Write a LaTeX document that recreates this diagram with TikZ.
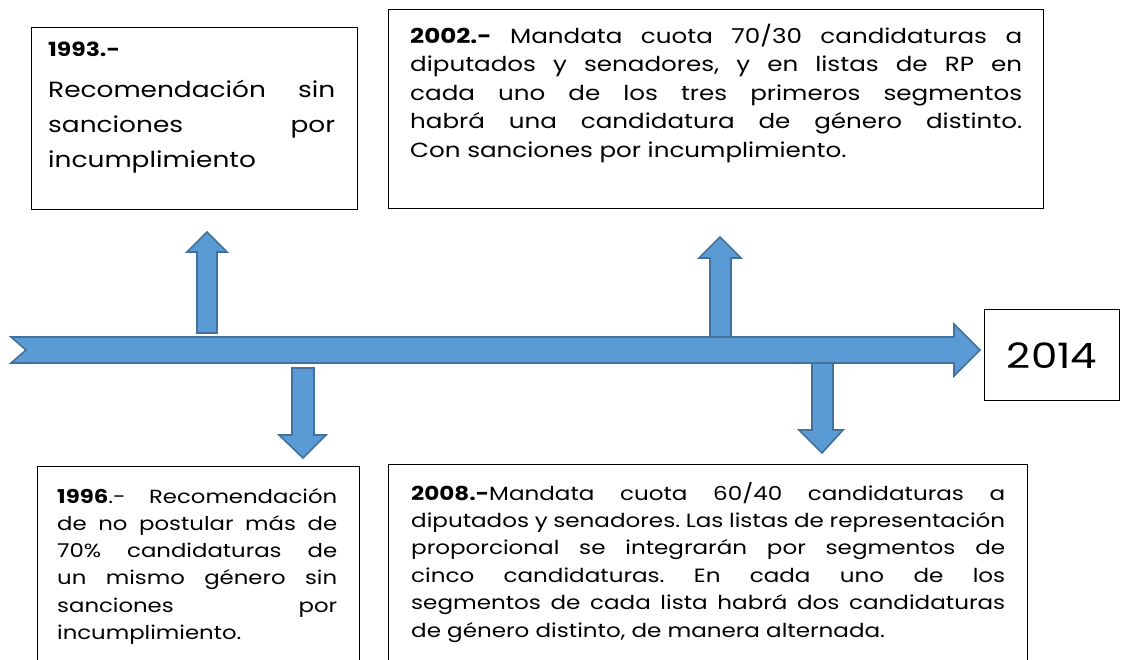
\documentclass[tikz,border=0pt]{standalone}
\usepackage{fontspec}
\setmainfont{Poppins}[FakeStretch=1.2]
\usetikzlibrary{positioning}
\definecolor{arrfill}{HTML}{5B9BD5}
\definecolor{arrline}{HTML}{41719C}
\frenchspacing
% one justified line of a box
\newcommand{\jline}[1]{\makebox[\hsize][s]{\spaceskip=0pt\xspaceskip=0pt #1}\\}

\begin{document}
\begin{tikzpicture}[x=1pt, y=-1pt,
    tbox/.style={draw, line width=1.3pt, anchor=north west, inner sep=0pt},
    txt/.style={anchor=base west, inner sep=0pt, align=justify},
    small/.style={font=\fontsize{19}{27.3}\selectfont},
    barr/.style={fill=arrfill, draw=arrline, line width=1.6pt},
  ]
  \clip (0,0) rectangle (1121,659);
  % time line and the four block arrows
  \draw[barr] (11,337) -- (954,337) -- (954,324) -- (980,350) -- (954,376)
    -- (954,363) -- (11,363) -- (26,350) -- cycle;
  \draw[barr] (197,333) -- (197,252) -- (187,252) -- (207,232) -- (227,252)
    -- (217,252) -- (217,333) -- cycle;
  \draw[barr] (710,337) -- (710,258) -- (699,258) -- (720,237) -- (741,258)
    -- (731,258) -- (731,337) -- cycle;
  \draw[barr] (292,368) -- (292,435) -- (279,435) -- (303,458) -- (326,435)
    -- (314,435) -- (314,368) -- cycle;
  \draw[barr] (812,363) -- (812,430) -- (799,430) -- (822,453) -- (843,430)
    -- (833,430) -- (833,363) -- cycle;
  % boxes
  \node[tbox, minimum width=326pt, minimum height=182pt] (b93) at (31,27) {};
  \node[tbox, minimum width=655pt, minimum height=199pt] (b02) at (388,9) {};
  \node[tbox, minimum width=322pt, minimum height=230pt] (b96) at (37,466) {};
  \node[tbox, minimum width=639pt, minimum height=230pt] (b08) at (388,464) {};
  \node[tbox, minimum width=135pt, minimum height=91pt] (b14) at (984,309) {};
  \node[font=\fontsize{35}{40}\selectfont] (t14) at (b14.center) {2014};
  % texts
  \node[txt, text width=287pt, font=\fontsize{22}{35}\selectfont] (t93) at (48,56)
    {{\fontsize{19.5}{35}\selectfont\bfseries 1993.-}\\[6pt]
     \jline{Recomendación sin}
     \jline{sanciones por}
     incumplimiento};
  \node[txt, text width=612pt, font=\fontsize{20.5}{28.5}\selectfont] (t02) at (410,43)
    {\jline{\textbf{2002.-} Mandata cuota 70/30 candidaturas a}
     \jline{diputados y senadores, y en listas de RP en}
     \jline{cada uno de los tres primeros segmentos}
     \jline{habrá una candidatura de género distinto.}
     Con sanciones por incumplimiento.};
  \node[txt, small, text width=280pt] (t96) at (57,503)
    {\jline{\textbf{1996}.- Recomendación}
     \jline{de no postular más de}
     \jline{70\% candidaturas de}
     \jline{un mismo género sin}
     \jline{sanciones por}
     incumplimiento.};
  \node[txt, text width=594pt, font=\fontsize{19.2}{27.4}\selectfont] (t08) at (411,500)
    {\jline{\textbf{2008.-}Mandata cuota 60/40 candidaturas a}
     \jline{diputados y senadores. Las listas de representación}
     \jline{proporcional se integrarán por segmentos de}
     \jline{cinco candidaturas. En cada uno de los}
     \jline{segmentos de cada lista habrá dos candidaturas}
     de género distinto, de manera alternada.};
\end{tikzpicture}
\end{document}
